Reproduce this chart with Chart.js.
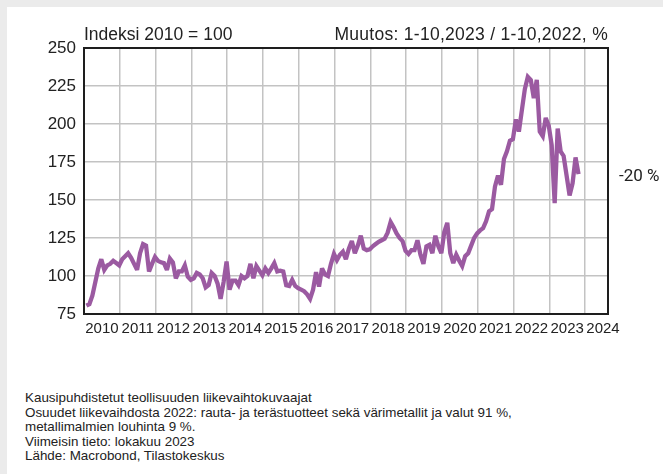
<!DOCTYPE html>
<html>
<head>
<meta charset="utf-8">
<script src="https://cdn.jsdelivr.net/npm/chart.js@4.4.1/dist/chart.umd.min.js"></script>
<style>
  html, body { margin: 0; padding: 0; }
  body { width: 663px; height: 474px; background: #ebebeb; position: relative; overflow: hidden; font-family: "Liberation Sans", Arial, sans-serif; color: #222; }
  #panel { position: absolute; left: 7px; top: 7px; width: 656px; height: 467px; background: #fff; }
  #chartBox { position: absolute; left: 0; top: 0; width: 663px; height: 345px; }
  .txt { position: absolute; white-space: nowrap; }
  #tl { left: 84px; top: 25px; font-size: 17.5px; line-height: 18px; }
  #tr { right: 55px; top: 25px; font-size: 17.5px; line-height: 18px; letter-spacing: 0.28px; }
  #chg { left: 619px; top: 166px; font-family: Roboto, sans-serif; font-size: 17px; line-height: 18px; }
  #foot { left: 25px; top: 391px; font-size: 13.4px; line-height: 14.5px; }
</style>
</head>
<body>
<div id="panel"></div>
<div id="chartBox"><canvas id="c" width="663" height="345"></canvas></div>
<div class="txt" id="tl">Indeksi 2010 = 100</div>
<div class="txt" id="tr">Muutos: 1-10,2023 / 1-10,2022, %</div>
<div class="txt" id="chg">-20 %</div>
<div class="txt" id="foot">Kausipuhdistetut teollisuuden liikevaihtokuvaajat<br>Osuudet liikevaihdosta 2022: rauta- ja terästuotteet sekä värimetallit ja valut 91 %,<br>metallimalmien louhinta 9 %.<br>Viimeisin tieto: lokakuu 2023<br>Lähde: Macrobond, Tilastokeskus</div>
<script>
// Year tick labels
const yearLabels = [2010, 2011, 2012, 2013, 2014, 2015, 2016, 2017, 2018, 2019, 2020, 2021, 2022, 2023, 2024];
const yTicks = [75, 100, 125, 150, 175, 200, 225, 250];

// Monthly index values (2010 = 100), Jan 2010 - Oct 2023
const v2010 = [80.5, 81.5, 87, 96, 105, 111, 104, 107, 108, 110, 108.5, 107];
const v2011 = [111, 113, 115, 112, 108, 104, 115, 121, 120, 103, 108, 112.5];
const v2012 = [110, 109, 108.5, 104, 111.5, 109, 98.5, 103, 103, 107, 99.5, 97.5];
const v2013 = [98.5, 102, 101, 98.5, 92.5, 94, 102, 100, 95, 85, 96, 109.5];
const v2014 = [91, 97, 97, 94, 100, 98.5, 100, 108, 98.5, 106.5, 103.5, 100.5];
const v2015 = [105, 102, 105, 108.5, 103, 103.5, 103, 94, 93.5, 97.5, 93.5, 92];
const v2016 = [91, 90, 88, 85, 91, 102.5, 93, 105, 101, 100, 108, 114.5];
const v2017 = [110.5, 114, 116, 111, 118, 123, 115, 120, 126.5, 118, 117, 117.5];
const v2018 = [119.5, 121, 122.5, 123.5, 124.5, 128.5, 135.5, 132, 128, 125, 123, 116.5];
const v2019 = [114.5, 117, 117, 123.5, 114, 108, 119.5, 120.5, 115, 126.5, 119.5, 115];
const v2020 = [129, 135, 115, 108.5, 114, 110, 106.5, 113, 115, 120, 125, 128];
const v2021 = [130, 131.5, 136, 142.5, 144, 159, 166, 160, 177, 182, 189, 190];
const v2022 = [203, 195, 209, 223, 231, 229, 217, 229, 195, 192, 204, 199];
const v2023 = [186, 148, 197, 182, 179, 166, 153, 161, 178, 167];

const seriesByYear = [v2010, v2011, v2012, v2013, v2014, v2015, v2016, v2017, v2018, v2019, v2020, v2021, v2022, v2023];

const points = [];
seriesByYear.forEach((arr, yi) => {
  arr.forEach((val, mi) => {
    points.push({ x: yearLabels[yi] + (mi + 0.8) / 12, y: val });
  });
});

const gridColor = '#c3c3c3';
const framePlugin = {
  id: 'frame',
  beforeDatasetsDraw(chart) {
    const a = chart.chartArea, ctx = chart.ctx;
    ctx.save();
    ctx.strokeStyle = '#1e1e1e';
    ctx.lineWidth = 2;
    ctx.strokeRect(a.left, a.top, a.right - a.left, a.bottom - a.top);
    ctx.restore();
    ctx.save();
    ctx.miterLimit = 3;
  },
  afterDatasetsDraw(chart) {
    chart.ctx.restore();
  }
};

new Chart(document.getElementById('c'), {
  type: 'line',
  data: {
    datasets: [{
      data: points,
      borderColor: '#9b5aa1',
      borderWidth: 4.3,
      pointRadius: 0,
      tension: 0,
      fill: false
    }]
  },
  options: {
    responsive: false,
    animation: false,
    devicePixelRatio: 1,
    layout: { padding: { left: 0, right: 55, top: 48, bottom: 0 } },
    plugins: { legend: { display: false }, tooltip: { enabled: false } },
    scales: {
      x: {
        type: 'linear',
        min: 2010,
        max: 2024.64,
        afterBuildTicks(scale) {
          const t = [];
          yearLabels.forEach(y => { t.push({ value: y }); t.push({ value: y + 0.5 }); });
          scale.ticks = t;
        },
        afterFit(scale) { scale.height = 31; },
        grid: {
          color: ctx => (ctx.tick && Number.isInteger(ctx.tick.value)) ? gridColor : 'rgba(0,0,0,0)',
          lineWidth: 1.5,
          drawTicks: false
        },
        border: { display: false },
        ticks: {
          autoSkip: false,
          maxRotation: 0,
          padding: 6,
          color: '#222',
          font: { family: 'Liberation Sans', size: 15 },
          callback: v => Number.isInteger(v) ? '' : String(Math.floor(v))
        }
      },
      y: {
        min: 75,
        max: 250,
        afterBuildTicks(scale) { scale.ticks = yTicks.map(v => ({ value: v })); },
        afterFit(scale) { scale.width = 84; },
        grid: { color: gridColor, lineWidth: 1.5, drawTicks: false },
        border: { display: false },
        ticks: {
          padding: 8,
          color: '#222',
          font: { family: 'Liberation Sans', size: 17 }
        }
      }
    }
  },
  plugins: [framePlugin]
});
</script>
</body>
</html>
